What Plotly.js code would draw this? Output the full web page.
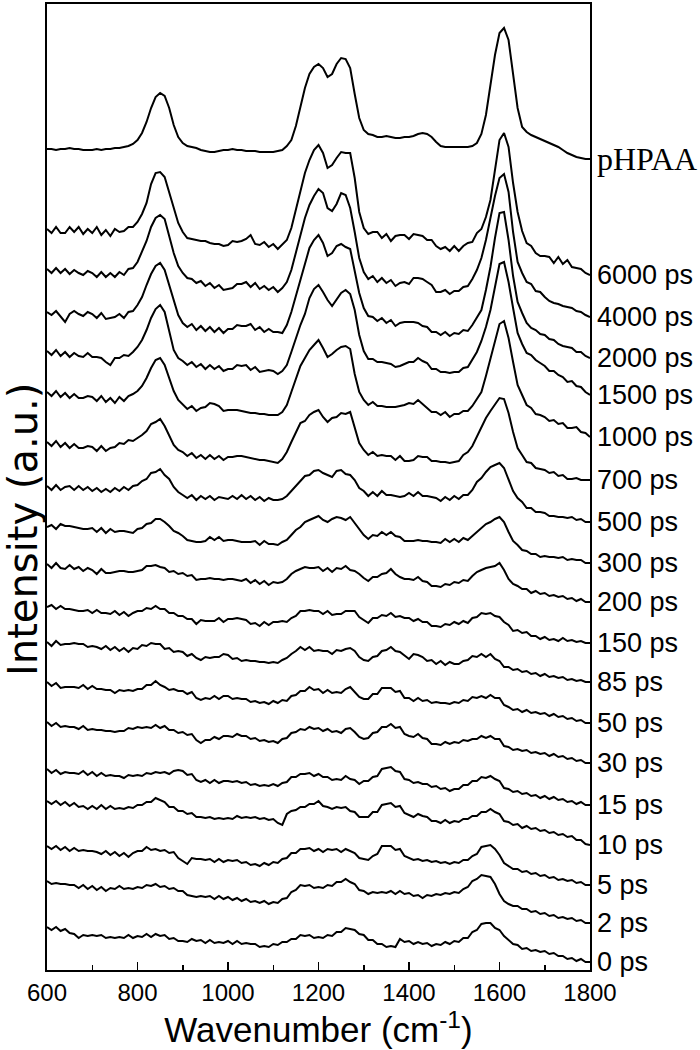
<!DOCTYPE html>
<html>
<head>
<meta charset="utf-8">
<script src="https://cdn.plot.ly/plotly-3.0.1.min.js"></script>
<style>html,body{margin:0;padding:0;background:#fff;}#chart{width:700px;height:1050px;}</style>
</head>
<body>
<div id="chart"></div>
<script>
// Wavenumber grid (cm^-1), 600..1800 in steps of 10
const wavenumbers = [];
for (let w = 600; w <= 1800; w += 10) wavenumbers.push(w);

// Trace labels (top to bottom)
const labels = ['pHPAA','6000 ps','4000 ps','2000 ps','1500 ps','1000 ps','700 ps','500 ps','300 ps',
  '200 ps','150 ps','85 ps','50 ps','30 ps','15 ps','10 ps','5 ps','2 ps','0 ps'];

// Vertical stacking offset of each spectrum (a.u.)
const stackOffsets = [821,740,700,658,618,577,527,483,443,405,363,327,287,247,200,168,123,88,42];

// Spectra (a.u., relative to their own offset), sampled every 10 cm^-1
const pHPAA = [
  0,0,-1,0,0,1,0,0,-1,-1,
  -1,0,-1,0,0,1,1,2,3,5,
  9,16,27,41,52,56,53,41,24,12,
  6,3,2,1,-1,-2,-3,-3,-2,-1,
  -1,0,-1,-1,-2,-2,-2,-3,-3,-3,
  -3,-2,-1,3,9,23,42,61,75,82,
  85,81,72,75,85,91,90,81,55,31,
  19,15,14,12,12,13,12,11,11,12,
  12,13,15,16,15,12,7,3,2,2,
  2,2,2,2,3,6,15,34,64,94,
  116,121,109,77,41,22,17,14,12,10,
  8,6,4,2,-1,-4,-6,-8,-9,-10,
  -10];
const ps6000 = [
  1,-3,3,-3,-3,3,-2,3,-4,1,
  -3,3,-5,0,-6,1,-2,-1,3,3,
  8,16,27,46,57,58,53,37,22,7,
  -2,-8,-9,-10,-11,-11,-13,-14,-14,-16,
  -15,-11,-12,-11,-9,-5,-14,-15,-12,-17,
  -14,-19,-14,-10,2,21,39,57,70,80,
  85,77,62,65,72,78,77,77,52,18,
  2,-4,-2,-2,-8,-4,-11,-6,-5,-5,
  -9,-4,-5,-6,-10,-10,-16,-19,-17,-21,
  -16,-21,-16,-13,-12,-3,1,13,30,60,
  90,97,83,47,18,-1,-13,-16,-23,-26,
  -26,-27,-33,-27,-34,-30,-37,-38,-39,-43,
  -45];
const ps4000 = [
  1,-3,2,-3,1,-4,0,-3,-5,-1,
  -3,-7,-2,-7,-3,-7,-2,-5,1,2,
  8,18,29,43,52,55,51,34,17,4,
  -3,-8,-9,-13,-11,-16,-13,-18,-15,-20,
  -19,-18,-14,-14,-12,-17,-13,-19,-16,-20,
  -17,-22,-18,-12,0,18,37,52,65,74,
  81,77,62,59,66,77,75,62,38,12,
  -2,-9,-6,-12,-8,-13,-10,-16,-13,-12,
  -14,-8,-8,-9,-12,-15,-22,-22,-20,-24,
  -21,-21,-17,-16,-9,0,12,30,52,74,
  92,96,78,38,8,-3,-12,-14,-21,-22,
  -27,-31,-33,-34,-36,-37,-38,-41,-42,-45,
  -47];
const ps2000 = [
  0,-3,1,-5,-10,-2,1,-2,-4,0,
  -2,-6,-1,-7,-6,-5,-2,-6,0,1,
  7,15,27,38,46,49,42,27,10,-3,
  -11,-15,-12,-18,-14,-19,-15,-20,-16,-21,
  -17,-17,-13,-14,-14,-12,-18,-15,-20,-17,
  -20,-20,-21,-13,0,16,33,50,64,72,
  77,69,56,59,66,68,65,63,42,19,
  4,-4,-5,-9,-6,-11,-8,-14,-11,-10,
  -10,-10,-11,-14,-15,-20,-20,-23,-20,-24,
  -21,-22,-18,-19,-13,-6,2,22,45,74,
  99,100,72,36,10,-1,-11,-16,-18,-22,
  -23,-27,-28,-32,-34,-35,-36,-40,-40,-44,
  -46];
const ps1500 = [
  1,-3,2,-4,0,-5,-1,-4,-5,-1,
  -5,-5,-6,-10,-13,-6,-6,-3,-4,0,
  5,12,22,34,43,47,40,20,2,-6,
  -9,-13,-10,-15,-12,-17,-13,-17,-14,-19,
  -17,-17,-13,-14,-13,-18,-15,-20,-19,-18,
  -19,-22,-19,-13,0,14,27,38,54,63,
  67,60,52,46,53,59,62,58,42,17,
  1,-7,-7,-10,-10,-11,-12,-15,-14,-12,
  -10,-10,-6,-9,-11,-17,-17,-20,-20,-21,
  -20,-20,-16,-15,-8,0,11,25,42,66,
  88,90,70,44,19,8,-1,-3,-8,-11,
  -14,-19,-19,-23,-25,-30,-29,-34,-35,-40,
  -43];
const ps1000 = [
  1,-3,2,-4,0,-5,-1,-5,-5,-3,
  -4,-8,-3,-9,-5,-10,-4,-8,-3,-1,
  2,7,15,25,33,35,28,15,2,-7,
  -11,-16,-13,-18,-15,-14,-10,-11,-13,-18,
  -17,-17,-17,-18,-19,-20,-20,-21,-21,-22,
  -22,-22,-19,-12,1,15,27,35,43,48,
  53,45,36,39,43,46,47,44,19,1,
  -7,-12,-9,-13,-13,-14,-14,-14,-13,-12,
  -10,-11,-7,-11,-14,-19,-19,-22,-19,-24,
  -21,-21,-18,-18,-13,-6,1,17,35,53,
  69,72,55,31,8,-2,-12,-15,-21,-22,
  -24,-28,-27,-31,-30,-35,-35,-34,-39,-40,
  -44];
const ps700 = [
  1,-3,2,-4,0,-5,-1,-5,-5,-3,
  -4,-8,-3,-8,-5,-4,0,-1,3,2,
  5,8,12,19,21,24,17,8,-2,-7,
  -9,-13,-10,-15,-12,-16,-12,-16,-13,-17,
  -14,-14,-13,-13,-14,-15,-16,-17,-17,-18,
  -19,-20,-16,-9,1,11,20,22,28,31,
  33,26,21,25,26,30,29,31,15,0,
  -7,-12,-9,-13,-12,-13,-13,-17,-13,-18,
  -18,-17,-13,-14,-14,-18,-18,-19,-19,-20,
  -19,-18,-12,-9,-3,6,15,25,32,39,
  45,44,30,11,-5,-12,-19,-20,-25,-26,
  -27,-30,-29,-33,-32,-36,-36,-35,-37,-37,
  -37];
const ps500 = [
  1,-3,2,-3,0,1,-3,1,-3,0,
  -4,-1,-5,-2,-5,-1,-4,0,-3,1,
  2,6,8,14,15,18,12,8,0,-5,
  -8,-11,-8,-13,-9,-12,-9,-13,-10,-11,
  -12,-9,-12,-8,-12,-9,-13,-10,-14,-11,
  -13,-13,-12,-9,-4,1,7,11,12,16,
  17,14,12,10,16,17,13,12,7,-1,
  -4,-9,-5,-9,-4,-8,-8,-9,-10,-9,
  -6,-9,-5,-9,-9,-10,-11,-14,-10,-13,
  -9,-12,-8,-8,-3,5,9,15,20,22,
  24,19,7,-4,-11,-15,-21,-21,-25,-25,
  -26,-29,-29,-30,-30,-31,-30,-33,-32,-35,
  -35];
const ps300 = [
  0,2,-2,3,1,1,0,-1,-2,-2,
  -1,-5,-1,-6,-2,-5,-4,-4,-5,-6,
  -2,-1,3,4,8,8,5,1,-4,-6,
  -9,-13,-14,-15,-15,-14,-10,-13,-10,-14,
  -13,-13,-14,-15,-15,-15,-14,-18,-14,-17,
  -17,-18,-15,-13,-8,-3,0,5,7,9,
  11,7,5,8,10,9,7,10,4,-3,
  -8,-12,-8,-9,-5,-8,-5,-9,-10,-14,
  -14,-14,-13,-14,-14,-15,-15,-16,-12,-15,
  -12,-15,-11,-13,-9,-5,-1,3,5,8,
  10,5,-5,-14,-18,-23,-24,-27,-27,-30,
  -29,-30,-30,-31,-30,-33,-32,-33,-33,-36,
  -36];
const ps200 = [
  1,-3,2,-3,-4,0,-4,-2,-6,-3,
  -5,-9,-4,-8,-8,-7,-6,-6,-7,-7,
  -6,-5,-1,-1,0,-2,-3,-7,-6,-9,
  -8,-11,-10,-15,-14,-14,-13,-14,-14,-15,
  -14,-14,-15,-16,-14,-18,-15,-19,-16,-20,
  -17,-18,-17,-14,-9,-6,-4,-2,-3,-3,
  -2,-6,-3,-7,-3,-4,-1,-5,-6,-9,
  -13,-16,-12,-12,-9,-8,-4,-9,-12,-14,
  -14,-15,-12,-16,-17,-21,-21,-22,-19,-20,
  -17,-18,-15,-16,-11,-7,-5,-3,-2,-1,
  2,-5,-14,-19,-21,-24,-24,-28,-26,-29,
  -28,-31,-30,-32,-31,-34,-33,-36,-34,-37,
  -37];
const ps150 = [
  0,2,-2,1,-2,-2,-3,-4,-4,-3,
  -6,-3,-6,-6,-7,-4,-8,-5,-9,-6,
  -4,-4,-1,-2,1,-2,-2,-6,-6,-9,
  -9,-12,-12,-17,-13,-14,-14,-14,-11,-15,
  -12,-12,-11,-12,-13,-17,-16,-19,-15,-18,
  -15,-15,-14,-15,-11,-9,-4,-4,-3,-4,
  -4,-7,-4,-8,-7,-7,-4,-4,-4,-10,
  -13,-16,-11,-11,-8,-9,-6,-10,-9,-11,
  -11,-14,-12,-15,-15,-19,-19,-20,-17,-18,
  -15,-17,-14,-16,-11,-10,-6,-7,-6,-9,
  -10,-15,-18,-24,-23,-26,-25,-29,-29,-32,
  -30,-33,-32,-34,-31,-34,-33,-35,-34,-36,
  -36];
const ps85 = [
  1,-3,2,-2,-1,-1,0,-1,-1,-4,
  -3,-4,-6,-3,-7,-4,-8,-5,-9,-5,
  -6,-2,-3,0,-1,-1,-6,-5,-9,-8,
  -9,-13,-11,-15,-17,-14,-15,-14,-14,-11,
  -12,-16,-15,-18,-17,-18,-18,-19,-19,-20,
  -19,-20,-17,-15,-11,-8,-4,-7,-4,-8,
  -7,-8,-8,-11,-7,-8,-6,-5,-8,-14,
  -17,-18,-14,-13,-8,-7,-4,-8,-9,-13,
  -16,-11,-12,-14,-18,-17,-21,-18,-22,-19,
  -21,-21,-18,-17,-13,-14,-11,-14,-11,-16,
  -18,-24,-24,-27,-26,-29,-28,-31,-30,-33,
  -31,-34,-33,-35,-34,-37,-36,-38,-37,-39,
  -39];
const ps50 = [
  1,-3,0,-5,-4,-4,-4,-5,-2,-6,
  -3,-6,-6,-7,-7,-10,-7,-8,-7,-8,
  -6,-6,-2,-2,2,-2,-4,-7,-6,-8,
  -8,-11,-9,-15,-17,-15,-16,-13,-16,-13,
  -13,-16,-15,-16,-16,-19,-18,-20,-19,-21,
  -18,-20,-17,-18,-13,-12,-8,-8,-4,-7,
  -6,-10,-7,-10,-9,-10,-6,-4,-9,-14,
  -16,-16,-11,-11,-5,-5,-5,-9,-8,-15,
  -15,-18,-15,-18,-17,-20,-19,-20,-20,-21,
  -19,-20,-17,-18,-14,-15,-13,-15,-12,-15,
  -15,-22,-24,-27,-26,-29,-27,-30,-29,-31,
  -30,-33,-31,-34,-33,-36,-35,-38,-37,-40,
  -40];
const ps30 = [
  1,-3,0,-4,-3,-4,-4,-6,-3,-7,
  -6,-7,-7,-8,-8,-9,-8,-8,-5,-6,
  -4,-5,-4,-5,-2,-5,-3,-7,-7,-10,
  -9,-12,-11,-17,-20,-17,-17,-14,-16,-13,
  -13,-14,-11,-13,-13,-16,-15,-18,-17,-19,
  -18,-20,-16,-15,-10,-9,-6,-7,-4,-6,
  -5,-8,-6,-9,-8,-10,-6,-5,-9,-14,
  -16,-15,-10,-9,-4,-4,-1,-5,-4,-11,
  -13,-14,-11,-15,-16,-21,-21,-22,-19,-21,
  -19,-20,-17,-18,-16,-16,-13,-15,-13,-16,
  -16,-23,-24,-27,-26,-28,-27,-30,-29,-31,
  -30,-33,-31,-34,-33,-36,-35,-38,-37,-40,
  -40];
const ps15 = [
  1,-3,0,-4,-2,-3,-3,-4,-1,-5,
  -2,-6,-3,-6,-5,-6,-6,-8,-5,-6,
  -5,-6,-3,-4,-2,-3,-2,-4,-1,0,
  -1,-5,-4,-10,-12,-10,-13,-10,-13,-11,
  -11,-12,-11,-13,-12,-15,-14,-16,-15,-16,
  -14,-16,-13,-12,-7,-7,-4,-4,-3,-6,
  -4,-7,-7,-10,-9,-10,-6,-9,-10,-14,
  -11,-11,-7,-6,1,2,3,-1,-2,-9,
  -10,-13,-12,-14,-14,-17,-16,-19,-18,-21,
  -19,-19,-15,-15,-11,-11,-7,-8,-6,-9,
  -11,-18,-19,-22,-21,-24,-23,-26,-25,-28,
  -26,-29,-27,-30,-29,-32,-31,-34,-32,-35,
  -35];
const ps10 = [
  1,-2,1,-3,0,-4,-1,-5,-4,-7,
  -4,-7,-3,-7,-4,-7,-6,-7,-5,-6,
  -3,-3,0,0,4,2,0,-5,-5,-9,
  -9,-12,-11,-15,-15,-16,-15,-17,-16,-17,
  -16,-17,-14,-16,-15,-16,-15,-17,-16,-18,
  -17,-21,-23,-12,-9,-8,-5,-5,-2,-2,
  1,-4,-5,-7,-5,-6,-5,-9,-10,-15,
  -15,-15,-10,-10,-3,-2,-1,-5,-4,-11,
  -13,-15,-12,-14,-15,-19,-19,-21,-18,-21,
  -19,-20,-17,-17,-14,-14,-10,-10,-7,-10,
  -12,-19,-20,-23,-22,-26,-24,-27,-26,-29,
  -28,-31,-30,-33,-32,-35,-34,-38,-38,-42,
  -43];
const ps5 = [
  1,-2,1,-3,0,-4,-1,-4,-3,-4,
  -4,-5,-7,-4,-8,-5,-9,-6,-10,-6,
  -4,-4,0,-3,-2,-4,-3,-6,-5,-11,
  -14,-17,-11,-12,-12,-13,-12,-15,-12,-15,
  -13,-14,-13,-16,-15,-18,-17,-19,-16,-18,
  -15,-16,-12,-11,-6,-6,-2,-2,-1,-4,
  -2,-5,-2,-3,-2,-5,-2,-4,-6,-11,
  -12,-13,-9,-7,1,1,1,-3,-2,-9,
  -11,-13,-12,-14,-13,-15,-14,-16,-15,-17,
  -15,-16,-13,-13,-9,-7,0,1,2,-2,
  -8,-16,-19,-22,-22,-25,-24,-27,-26,-29,
  -28,-31,-30,-33,-32,-34,-33,-36,-35,-38,
  -38];
const ps2 = [
  1,-2,-1,-2,-2,-3,-3,-6,-3,-7,
  -4,-8,-5,-9,-6,-7,-4,-7,-6,-7,
  -5,-6,-3,-4,-2,-5,-4,-7,-6,-9,
  -9,-13,-14,-15,-14,-15,-14,-17,-14,-17,
  -15,-18,-16,-19,-17,-20,-19,-21,-19,-22,
  -20,-21,-17,-16,-10,-8,-3,-4,-3,-6,
  -5,-6,-3,-4,0,0,3,0,-2,-8,
  -9,-12,-10,-11,-10,-11,-9,-12,-9,-12,
  -11,-14,-13,-16,-13,-14,-12,-13,-11,-12,
  -10,-11,-7,-5,1,3,7,6,5,-2,
  -12,-19,-22,-24,-24,-27,-27,-30,-29,-32,
  -31,-34,-33,-36,-35,-37,-36,-39,-38,-41,
  -41];
const ps0 = [
  1,-2,1,-3,-1,-5,-6,-10,-7,-8,
  -7,-8,-7,-10,-9,-10,-9,-10,-7,-10,
  -8,-9,-6,-9,-6,-8,-7,-11,-10,-13,
  -13,-14,-11,-13,-12,-15,-12,-15,-14,-15,
  -13,-16,-13,-16,-15,-16,-16,-19,-18,-19,
  -16,-17,-14,-14,-11,-11,-7,-8,-7,-10,
  -9,-10,-7,-8,-4,-4,0,-1,-2,-6,
  -7,-12,-12,-16,-16,-19,-18,-19,-11,-14,
  -13,-16,-14,-16,-15,-18,-16,-17,-14,-16,
  -13,-14,-10,-10,-4,-2,4,5,5,0,
  -2,-8,-12,-16,-17,-21,-20,-23,-22,-24,
  -23,-26,-25,-28,-28,-31,-30,-33,-31,-34,
  -34];

const spectra = [pHPAA, ps6000, ps4000, ps2000, ps1500, ps1000, ps700, ps500, ps300,
  ps200, ps150, ps85, ps50, ps30, ps15, ps10, ps5, ps2, ps0];

const xTickVals = [600, 800, 1000, 1200, 1400, 1600, 1800];

const traces = spectra.map((s, i) => ({
  x: wavenumbers,
  y: s.map(v => v + stackOffsets[i]),
  type: 'scatter',
  mode: 'lines',
  line: {color: '#000', width: 2},
  hoverinfo: 'skip',
  showlegend: false
}));

const sans = 'Liberation Sans, Arial, sans-serif';

const annotations = labels.map((lab, i) => {
  const s = spectra[i];
  return {
    xref: 'paper', yref: 'y',
    x: 1, y: s[s.length - 1] + stackOffsets[i],
    xanchor: 'left', yanchor: 'middle',
    xshift: 5,
    text: lab,
    showarrow: false,
    font: i === 0 ? {family: 'Liberation Serif, Times New Roman, serif', size: 32, color: '#000'}
                  : {family: sans, size: 27, color: '#000'}
  };
});

// y-axis title, placed as a rotated annotation
annotations.push({
  xref: 'paper', yref: 'y',
  x: 0, y: 440, xanchor: 'center', yanchor: 'middle', xshift: -24,
  text: 'Intensity (a.u.)', textangle: -90, showarrow: false,
  font: {family: 'DejaVu Sans, sans-serif', size: 40, color: '#000'}
});

const layout = {
  width: 700, height: 1050,
  margin: {l: 47, r: 110, t: 4, b: 80, autoexpand: false},
  paper_bgcolor: '#fff', plot_bgcolor: '#fff',
  showlegend: false,
  font: {family: sans, color: '#000'},
  xaxis: {
    range: [600, 1800], autorange: false,
    showline: true, linecolor: '#000', linewidth: 2, mirror: true,
    ticks: 'inside', ticklen: 8, tickwidth: 1.5, tickcolor: '#000',
    tickmode: 'array', tickvals: xTickVals,
    minor: {ticks: 'inside', ticklen: 5, tickwidth: 1.5, tickcolor: '#000', tickmode: 'linear', tick0: 600, dtick: 100},
    tickfont: {family: sans, size: 24, color: '#000'},
    showgrid: false, zeroline: false,
    title: {text: 'Wavenumber (cm<sup>-1</sup>)', font: {family: sans, size: 35, color: '#000'}, standoff: 0},
    automargin: false
  },
  yaxis: {
    range: [0, 966], autorange: false,
    showline: true, linecolor: '#000', linewidth: 2, mirror: true,
    ticks: '', showticklabels: false,
    showgrid: false, zeroline: false,
    automargin: false
  },
  annotations: annotations
};

Plotly.newPlot('chart', traces, layout, {staticPlot: true, displayModeBar: false});
</script>
</body>
</html>
